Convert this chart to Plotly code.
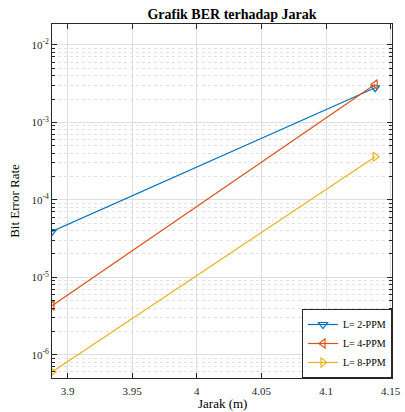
import plotly.graph_objects as go

jarak = [3.888, 4.138]
ber_2ppm = [3.9e-5, 2.8e-3]
ber_4ppm = [4.3e-6, 3.1e-3]
ber_8ppm = [6.0e-7, 3.6e-4]
labels = ["L= 2-PPM", "L= 4-PPM", "L= 8-PPM"]
colors = ["#0072BD", "#D95319", "#EDB120"]
symbols = ["triangle-down-open", "triangle-left-open", "triangle-right-open"]

xticks = [3.9, 3.95, 4, 4.05, 4.1, 4.15]
xticktext = ["3.9", "3.95", "4", "4.05", "4.1", "4.15"]
yexp = [-6, -5, -4, -3, -2]

font = "Liberation Serif"
axcol = "#262626"

fig = go.Figure()
for ys, lab, c, s in zip([ber_2ppm, ber_4ppm, ber_8ppm], labels, colors, symbols):
    fig.add_trace(go.Scatter(x=jarak, y=ys, name=lab, mode="lines+markers",
                             line=dict(color=c, width=1.2),
                             marker=dict(symbol=s, size=8, color=c, line=dict(width=1.2, color=c))))

minor_vals = [m * 10 ** e for e in range(-7, -1) for m in range(2, 10)]

plot_h = 412 - 24 - 34
fig.update_layout(
    width=405, height=412,
    margin=dict(l=52, r=4, t=24, b=34),
    paper_bgcolor="white", plot_bgcolor="white",
    hovermode=False,
    font=dict(family=font, size=11, color=axcol),
    title=dict(text="<b>Grafik BER terhadap Jarak</b>", x=232 / 405, xref="container", xanchor="center",
               y=1 - 14 / 412, yanchor="middle", font=dict(family=font, size=14, color="black")),
    showlegend=True,
    legend=dict(x=1, y=0, xanchor="right", yanchor="bottom", bgcolor="white",
                bordercolor=axcol, borderwidth=1, font=dict(family=font, size=10, color="black"),
                tracegroupgap=0, itemwidth=30),
    annotations=[dict(text="Jarak (m)", xref="paper", yref="paper", x=0.5, y=-25 / plot_h,
                      xanchor="center", yanchor="middle", showarrow=False,
                      font=dict(family=font, size=13, color="black"))],
)
fig.update_xaxes(
    range=[3.888, 4.151], tickvals=xticks, ticktext=xticktext,
    showline=True, linecolor=axcol, linewidth=1, mirror="ticks",
    ticks="inside", ticklen=5, tickcolor=axcol, ticklabeloverflow="allow",
    ticklabelstandoff=3,
    showgrid=True, gridcolor="#dedede", gridwidth=1, zeroline=False,
    tickfont=dict(family=font, size=11, color=axcol),
)
fig.update_yaxes(
    type="log", range=[-6.3, -1.73],
    tickvals=[10 ** e for e in yexp], ticktext=[f"10<sup>{e}</sup>" for e in yexp],
    showline=True, linecolor=axcol, linewidth=1, mirror="ticks",
    ticks="inside", ticklen=5, tickcolor=axcol,
    showgrid=True, gridcolor="#dedede", gridwidth=1, zeroline=False,
    minor=dict(tickvals=minor_vals, ticks="inside", ticklen=3, tickcolor=axcol,
               showgrid=True, gridcolor="#e2e2e2", griddash="dot", gridwidth=1),
    title=dict(text="Bit Error Rate", font=dict(family=font, size=13, color="black"), standoff=8),
    tickfont=dict(family=font, size=11, color=axcol),
)

fig.write_html("out.html", config={"displayModeBar": False, "staticPlot": True},
               post_script="document.body.style.margin='0';document.body.style.overflow='hidden';")
